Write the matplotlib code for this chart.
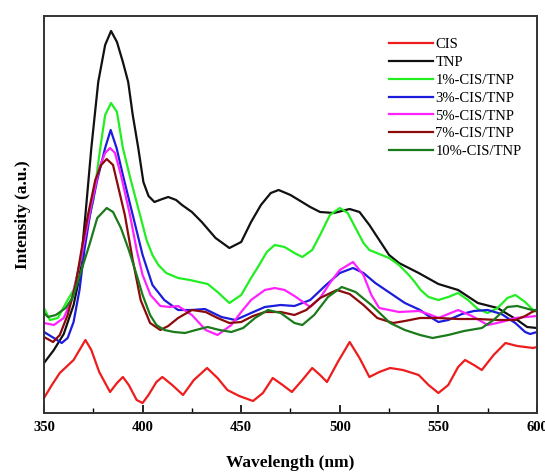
import matplotlib
matplotlib.use("Agg")
import matplotlib.pyplot as plt
from matplotlib.ticker import MultipleLocator

plt.rcParams["font.family"] = ["Liberation Serif", "DejaVu Serif"]

# ---- data (intensity in arbitrary units) ----
labels = ["CIS", "TNP", "1%-CIS/TNP", "3%-CIS/TNP", "5%-CIS/TNP", "7%-CIS/TNP", "10%-CIS/TNP"]
colors = ["#ee1c1c", "#111111", "#22ee22", "#1c1cdd", "#ff22ff", "#8b0a0a", "#1b7a1b"]

cis_x = [350, 354, 358, 365, 368, 371, 374, 378, 383.5, 387, 390, 393, 397, 400, 403, 407, 410, 415,
         420.5, 426, 432.7, 438, 443, 449, 456, 461, 466, 471, 475.7, 481, 486, 490, 493.5, 499, 505,
         510, 515, 520, 525.5, 532, 540, 545, 550, 555, 560, 563.5, 568, 572, 578, 584, 590, 598, 600]
cis_y = [15, 28, 40, 53, 63, 73, 63, 41, 21, 30, 36, 28, 13, 10, 18, 31, 36, 28, 18, 33, 45, 35, 23,
         17, 12, 20, 35, 28, 21, 33, 45, 38, 31, 51, 71, 55, 36, 41, 45, 43, 38, 28, 20, 28, 46, 53,
         48, 43, 58, 70, 67, 65, 66]

tnp_x = [350, 355, 360, 365, 368, 371, 374, 377.5, 381, 384, 387, 390, 392.7, 395, 397.8, 400.4, 403,
         406, 410, 413, 417, 420, 425, 430, 437, 444, 450, 455, 460, 465, 469, 475, 480, 485, 490,
         497, 505, 510, 515, 520, 525, 530, 540, 550, 560, 570, 580, 590, 595, 600]
tnp_y = [50, 63, 79, 108, 136, 198, 265, 331, 368, 382, 371, 351, 331, 298, 265, 231, 217, 211, 214,
         216, 213, 208, 201, 191, 175, 165, 171, 191, 208, 220, 223, 218, 212, 206, 201, 200, 204, 201,
         188, 173, 158, 150, 140, 129, 123, 110, 105, 93, 86, 85]

p1_x = [350, 353, 357, 362, 365, 368, 371, 375, 378.4, 381, 384, 387, 390, 394, 398.7, 402, 405, 408,
        412, 418, 424, 433, 438, 444, 450, 455, 458.5, 463, 467, 472, 477, 481, 486, 490, 495, 500,
        504, 508, 512, 515, 520, 525, 530, 535, 538, 541, 545, 550, 555, 560, 565, 570, 575, 580,
        585, 589, 594, 598, 600]
p1_y = [105, 93, 95, 113, 123, 148, 178, 213, 263, 298, 310, 301, 265, 233, 198, 173, 158, 148, 140,
        135, 133, 129, 121, 110, 118, 135, 146, 161, 168, 166, 160, 156, 163, 178, 198, 205, 200, 185,
        170, 163, 159, 155, 148, 138, 131, 123, 116, 113, 116, 120, 113, 104, 100, 105, 115, 118, 111,
        103, 101]

p3_x = [350, 355, 359, 362, 365, 368, 370.5, 373.3, 377, 381, 383.8, 386.8, 390, 395, 400, 405, 411,
        418, 425, 431.6, 440, 447, 455, 462, 470, 477, 485, 493, 500, 506.7, 512, 518, 525.5, 533,
        540.7, 545, 550, 555, 562, 568, 575, 582, 589, 594, 596.5, 600]
p3_y = [81, 75, 70, 75, 91, 123, 163, 198, 233, 265, 283, 265, 238, 198, 158, 128, 113, 103, 103, 104,
        96, 93, 100, 106, 108, 107, 113, 128, 140, 145, 140, 130, 120, 110, 103, 97, 91, 93, 99, 102,
        103, 99, 90, 81, 79, 81]

p5_x = [350, 355, 360, 364, 368, 371, 374, 378, 381, 383.5, 386, 389, 393.6, 397, 400, 404, 409, 414,
        418, 425, 432, 438, 445, 450, 455, 462, 467, 472, 477, 485, 490, 495, 500, 506.7, 512, 516,
        520, 530, 540, 545, 550, 555, 560, 567, 575, 582, 589, 600]
p5_y = [90, 88, 95, 113, 148, 178, 208, 245, 260, 265, 260, 238, 198, 163, 138, 118, 107, 106, 107, 98,
        83, 78, 88, 101, 113, 123, 125, 123, 117, 106, 115, 130, 143, 151, 138, 118, 105, 101, 102,
        99, 95, 99, 103, 97, 88, 91, 95, 97]

p7_x = [350, 354.6, 358, 362, 366, 369, 372.3, 376, 379, 381.8, 385, 388, 391, 395, 399, 403.8, 409,
        413, 418, 425, 432, 438, 444, 450, 456, 462, 470, 477, 483, 490, 498.5, 505, 512, 519, 527,
        533, 540.7, 550, 560, 570, 580, 589, 594, 597.5, 600]
p7_y = [76, 71, 78, 98, 128, 163, 198, 233, 248, 254, 248, 223, 198, 153, 113, 90, 83, 87, 95, 103, 101,
        95, 90, 91, 97, 101, 101, 98, 103, 115, 123, 119, 108, 95, 90, 92, 95, 95, 94, 94, 93, 93, 97,
        101, 103]

p10_x = [350, 352, 356, 361, 364.7, 369, 373.3, 377, 381.8, 385, 389, 393, 397, 400, 403.8, 407, 411,
         416, 421.5, 427, 433, 439, 445, 451, 457, 463.6, 470, 477, 481, 487, 494, 501, 508, 516,
         525.5, 533, 540.7, 547, 555, 563, 572, 578, 585, 590, 597.5, 600]
p10_y = [100, 96, 98, 105, 116, 143, 170, 195, 205, 201, 185, 163, 138, 118, 98, 88, 83, 81, 80, 83, 86,
         83, 81, 85, 95, 103, 100, 90, 88, 98, 116, 126, 121, 108, 90, 83, 78, 75, 78, 82, 85, 93, 106,
         107, 103, 103]

xs = [cis_x, tnp_x, p1_x, p3_x, p5_x, p7_x, p10_x]
ys = [cis_y, tnp_y, p1_y, p3_y, p5_y, p7_y, p10_y]

# ---- figure ----
fig = plt.figure(figsize=(5.45, 4.75), dpi=100)
ax = fig.add_axes([44 / 545, 62 / 475, 493 / 545, 397 / 475])

for x, y, c, lab in zip(xs, ys, colors, labels):
    ax.plot(x, y, color=c, lw=1.6, label=lab, solid_joinstyle="round")

ax.set_xlim(350, 600)
ax.set_ylim(0, 397)
ax.xaxis.set_major_locator(MultipleLocator(50))
ax.xaxis.set_minor_locator(MultipleLocator(25))
ax.tick_params(axis="x", which="major", direction="in", length=6, width=1.2, pad=6,
               labelsize=10.5, top=False)
ax.tick_params(axis="x", which="minor", direction="in", length=3.5, width=1.0, top=False)
ax.set_yticks([])
for lbl in ax.get_xticklabels():
    lbl.set_fontweight("bold")
for sp in ax.spines.values():
    sp.set_color("#333333")
    sp.set_linewidth(1.4)

ax.set_xlabel("Wavelength (nm)", fontsize=12.5, fontweight="bold", labelpad=15)
ax.set_ylabel("Intensity (a.u.)", fontsize=12.5, fontweight="bold", labelpad=9)

ax.legend(loc="upper left", bbox_to_anchor=(383 / 545, (475 - 32) / 475),
          bbox_transform=fig.transFigure, frameon=False, fontsize=10.5,
          handlelength=3.0, handletextpad=0.2, labelspacing=0.32, borderaxespad=0)

fig.savefig("out.png", dpi=100)
